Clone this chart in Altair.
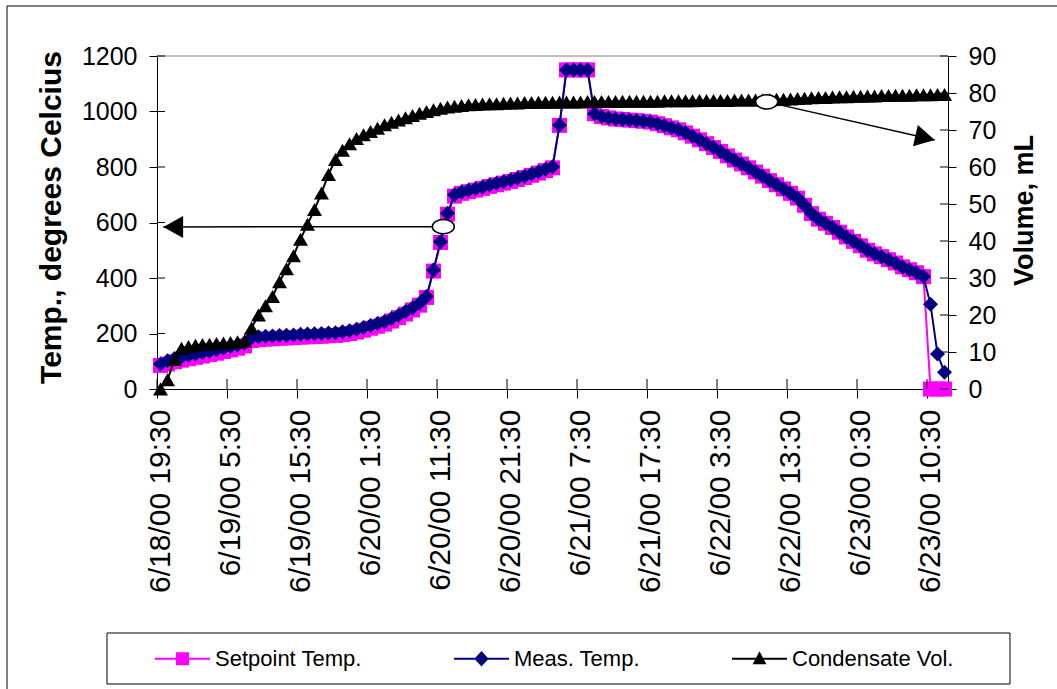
import altair as alt
import pandas as pd

# ---------------- data ----------------
HOURS = list(range(113))  # hourly samples from 6/18/00 19:30

SETPOINT = [85, 90, 98, 104, 109, 114, 119, 124, 129, 135, 141, 147, 155,
            175, 178, 180, 181, 183, 184, 185, 187, 188, 189, 190, 192, 193,
            196, 200, 205, 212, 219, 226, 234, 245, 257, 270, 285, 302,
            330, 425, 528, 630,
            695, 705, 711, 717, 723, 730, 736, 742, 748, 755, 762, 770, 778, 787, 797,
            950, 1150, 1150, 1150, 1150,
            992, 982, 977, 973, 971, 969, 967, 965, 962, 956, 949, 941, 934, 923, 911, 898, 884, 870,
            856, 840, 825, 811, 797, 782, 767, 751, 736, 721, 705, 688, 662, 632, 612, 597, 582, 565,
            548, 532, 516, 500, 487, 477, 466, 454, 440, 430, 419, 405,
            0, 0, 0]

MEAS = [90, 102, 110, 116, 121, 126, 131, 136, 141, 147, 153, 159, 166,
        185, 188, 190, 191, 193, 194, 195, 197, 198, 199, 200, 202, 203,
        206, 210, 215, 222, 229, 236, 243, 254, 266, 279, 293, 309,
        333, 429, 531, 633,
        700, 710, 716, 722, 728, 735, 741, 747, 753, 760, 767, 775, 783, 792, 801,
        951, 1150, 1150, 1150, 1150,
        992, 982, 977, 973, 971, 969, 967, 965, 962, 956, 949, 941, 934, 923, 911, 898, 884, 870,
        856, 840, 825, 811, 797, 782, 767, 751, 736, 721, 705, 688, 662, 632, 612, 597, 582, 565,
        548, 532, 516, 500, 487, 477, 466, 454, 440, 430, 419, 405,
        305, 126, 60]

CONDENSATE = [0, 2.5, 8, 11, 11.5, 11.8, 12.0, 12.1, 12.3, 12.4,
              12.6, 12.8, 13.0, 16.5, 20.0, 22.5, 25.0, 29.0, 32.5, 36.0,
              40.5, 44.5, 48.5, 53.0, 58.0, 62.0, 64.5, 66.3, 67.7, 68.7,
              69.6, 70.5, 71.4, 72.1, 72.7, 73.3, 73.9, 74.5, 75.0, 75.5,
              75.9, 76.2, 76.4, 76.6, 76.8, 76.9, 77.0, 77.1, 77.1, 77.2,
              77.3, 77.3, 77.4, 77.4, 77.5, 77.5, 77.5, 77.6, 77.6, 77.6,
              77.6, 77.7, 77.7, 77.7, 77.7, 77.7, 77.8, 77.8, 77.8, 77.8,
              77.8, 77.8, 77.9, 77.9, 77.9, 77.9, 77.9, 78.0, 78.0, 78.0,
              78.0, 78.0, 78.1, 78.1, 78.1, 78.1, 78.2, 78.2, 78.3, 78.3,
              78.4, 78.5, 78.6, 78.7, 78.8, 78.8, 78.9, 79.0, 79.0, 79.1,
              79.1, 79.2, 79.2, 79.3, 79.3, 79.4, 79.4, 79.4, 79.5, 79.5,
              79.5, 79.6, 79.6]

assert len(SETPOINT) == len(HOURS) == len(MEAS) == len(CONDENSATE)

TICK_LABELS = ["6/18/00 19:30", "6/19/00 5:30", "6/19/00 15:30", "6/20/00 1:30",
               "6/20/00 11:30", "6/20/00 21:30", "6/21/00 7:30", "6/21/00 17:30",
               "6/22/00 3:30", "6/22/00 13:30", "6/23/00 0:30", "6/23/00 10:30"]
TICK_HOURS = [0, 10, 20, 30, 40, 50, 60, 70, 80, 90, 100, 110]
TEMP_TICKS = [0, 200, 400, 600, 800, 1000, 1200]
VOL_TICKS = [0, 10, 20, 30, 40, 50, 60, 70, 80, 90]

SERIES = ["Setpoint Temp.", "Meas. Temp.", "Condensate Vol."]
COLORS = ["#FF00FF", "#000080", "#000000"]

# annotation arrows: (from ellipse) -> (arrow tip)
ARROW_TEMP = {"h": [40.4], "h2": [0.4], "T": [585], "T2": [584]}
ARROW_VOL = {"h": [86.6], "h2": [110.6], "V": [77.6], "V2": [67.3]}

# ---------------- layout ----------------
W, H = 791, 333
FONT = "Liberation Sans"

x_scale = alt.Scale(domain=[-0.5, 112.5], nice=False, zero=False)
bounds = [t - 0.5 for t in TICK_HOURS]
label_arr = "[" + ",".join("'%s'" % s for s in TICK_LABELS) + "]"
x_axis = alt.Axis(values=bounds, labelExpr=label_arr + "[round((datum.value + 0.5) / 10)]",
                  labelOffset=3.5, labelAngle=270, labelAlign="right", labelBaseline="middle",
                  labelFont=FONT, labelFontSize=30, labelColor="black", labelPadding=11,
                  labelFlush=False, labelOverlap=False, labelBound=False, labelLimit=600,
                  tickSize=9, tickColor="black", domainColor="black", grid=False, title=None)


def X(field="h"):
    return alt.X(field + ":Q", scale=x_scale, axis=x_axis)


t_scale = alt.Scale(domain=[0, 1200], nice=False, zero=True)
t_axis = alt.Axis(orient="left", values=TEMP_TICKS, format="d", tickSize=8, tickColor="black",
                  domainColor="black", labelFont=FONT, labelFontSize=25, labelColor="black",
                  labelPadding=12, grid=False,
                  title="Temp., degrees Celcius", titleFont=FONT, titleFontSize=30,
                  titleFontWeight="bold", titleColor="black", titleAngle=270,
                  titleAlign="center", titleBaseline="middle", titleX=-106, titleY=161)
v_scale = alt.Scale(domain=[0, 90], nice=False, zero=True)
v_axis = alt.Axis(orient="right", values=VOL_TICKS, format="d", tickSize=8, tickColor="black",
                  domainColor="black", labelFont=FONT, labelFontSize=25, labelColor="black",
                  labelPadding=12, grid=False,
                  title="Volume, mL", titleFont=FONT, titleFontSize=27,
                  titleFontWeight="bold", titleColor="black", titleAngle=270,
                  titleAlign="center", titleBaseline="middle", titleX=76, titleY=154)


def YT(field="T"):
    return alt.Y(field + ":Q", scale=t_scale, axis=t_axis)


def YV(field="V"):
    return alt.Y(field + ":Q", scale=v_scale, axis=v_axis)


sp_df = pd.DataFrame({"h": HOURS, "T": SETPOINT})
ms_df = pd.DataFrame({"h": HOURS, "T": MEAS})
cv_df = pd.DataFrame({"h": HOURS, "V": CONDENSATE})

sp_line = alt.Chart(sp_df).mark_line(color=COLORS[0], strokeWidth=2).encode(x=X(), y=YT())
sp_pts = alt.Chart(sp_df).mark_point(shape="square", filled=True, size=225, color=COLORS[0],
                                     opacity=1).encode(x=X(), y=YT())
ms_line = alt.Chart(ms_df).mark_line(color=COLORS[1], strokeWidth=2).encode(x=X(), y=YT())
ms_pts = alt.Chart(ms_df).mark_point(shape="diamond", filled=True, size=225, color=COLORS[1],
                                     opacity=1).encode(x=X(), y=YT())
cv_line = alt.Chart(cv_df).mark_line(color=COLORS[2], strokeWidth=2).encode(x=X(), y=YV())
cv_pts = alt.Chart(cv_df).mark_point(shape="triangle-up", filled=True, size=225, color=COLORS[2],
                                     opacity=1).encode(x=X(), y=YV())

# inner halves of the crossing tick marks
t_in = alt.Chart(pd.DataFrame({"T": TEMP_TICKS})).mark_rule(color="black", strokeWidth=1).encode(
    y=YT(), x=alt.value(0), x2=alt.value(8))
v_in = alt.Chart(pd.DataFrame({"V": VOL_TICKS})).mark_rule(color="black", strokeWidth=1).encode(
    y=YV(), x=alt.value(W - 8), x2=alt.value(W))
x_in = alt.Chart(pd.DataFrame({"h": bounds})).mark_rule(color="black", strokeWidth=1).encode(
    x=X(), y=alt.value(H - 10), y2=alt.value(H))

# annotations
ELLIPSE = "M -1 0 A 1 0.65 0 1 1 1 0 A 1 0.65 0 1 1 -1 0 Z"
HEAD_LEFT = "M 0 0 L 1.8 -1 L 1.8 1 Z"
HEAD_RIGHT = "M 0 0 L -1.8 -1 L -1.8 1 Z"

at_df = pd.DataFrame(ARROW_TEMP)
av_df = pd.DataFrame(ARROW_VOL)
at_line = alt.Chart(at_df).mark_rule(color="black", strokeWidth=1.5).encode(
    x=X(), x2="h2:Q", y=YT(), y2="T2:Q")
at_head = alt.Chart(at_df).mark_point(shape=HEAD_LEFT, filled=True, color="black", size=484,
                                      opacity=1).encode(x=X("h2"), y=YT("T2"))
at_ell = alt.Chart(at_df).mark_point(shape=ELLIPSE, size=484, fill="white", stroke="black",
                                     strokeWidth=1.5, fillOpacity=1, opacity=1).encode(x=X(), y=YT())
av_line = alt.Chart(av_df).mark_rule(color="black", strokeWidth=1.5).encode(
    x=X(), x2="h2:Q", y=YV(), y2="V2:Q")
av_head = alt.Chart(av_df).mark_point(shape=HEAD_RIGHT, filled=True, color="black", size=484,
                                      angle=12.8, opacity=1).encode(x=X("h2"), y=YV("V2"))
av_ell = alt.Chart(av_df).mark_point(shape=ELLIPSE, size=484, fill="white", stroke="black",
                                     strokeWidth=1.5, fillOpacity=1, opacity=1).encode(x=X(), y=YV())

temp_group = alt.layer(sp_line, sp_pts, ms_line, ms_pts, t_in, x_in, at_line, at_head, at_ell)
vol_group = alt.layer(cv_line, cv_pts, v_in, av_line, av_head, av_ell)

# frame, plot-area top border and legend box
one = pd.DataFrame({"k": [0]})
frame = alt.Chart(one).mark_rect(fillOpacity=0, stroke="black", strokeWidth=1).encode(
    x=alt.value(-150), x2=alt.value(1200), y=alt.value(-50), y2=alt.value(900))
top_rule = alt.Chart(one).mark_rule(color="#C0C0C0", strokeWidth=2).encode(
    x=alt.value(0), x2=alt.value(W), y=alt.value(0))
legend_box = alt.Chart(one).mark_rect(fillOpacity=0, stroke="black", strokeWidth=1).encode(
    x=alt.value(-50), x2=alt.value(853), y=alt.value(577), y2=alt.value(628))

# legend (symbols: line + marker)
LEG_PATHS = [
    "M -1 -0.04 L 1 -0.04 L 1 0.04 L -1 0.04 Z M -0.24 -0.24 L 0.24 -0.24 L 0.24 0.24 L -0.24 0.24 Z",
    "M -1 -0.04 L 1 -0.04 L 1 0.04 L -1 0.04 Z M 0 -0.28 L 0.26 0 L 0 0.28 L -0.26 0 Z",
    "M -1 -0.04 L 1 -0.04 L 1 0.04 L -1 0.04 Z M 0 -0.27 L 0.25 0.2 L -0.25 0.2 Z",
]
leg = alt.Legend(title=None, orient="none", legendX=-2, legendY=575, direction="horizontal",
                 symbolSize=3025, symbolStrokeWidth=0, symbolOpacity=1,
                 labelFont=FONT, labelFontSize=22, labelColor="black",
                 labelOffset=5, columnPadding=92, padding=0, labelLimit=500)
legend_layer = alt.Chart(pd.DataFrame({"series": SERIES})).mark_point(
    filled=True, size=10, opacity=1).encode(
    x=alt.value(-400), y=alt.value(-400),
    color=alt.Color("series:N", scale=alt.Scale(domain=SERIES, range=COLORS), legend=leg),
    shape=alt.Shape("series:N", scale=alt.Scale(domain=SERIES, range=LEG_PATHS), legend=leg),
)

chart = alt.layer(frame, top_rule, legend_box, temp_group, vol_group, legend_layer).resolve_scale(
    y="independent"
).properties(
    width=W, height=H,
    autosize=alt.AutoSizeParams(type="none"),
    padding={"left": 157, "top": 56, "right": 109, "bottom": 300},
    background="white",
).configure_view(strokeWidth=0)

chart.save("out.html", embed_options={"renderer": "svg", "actions": False})
